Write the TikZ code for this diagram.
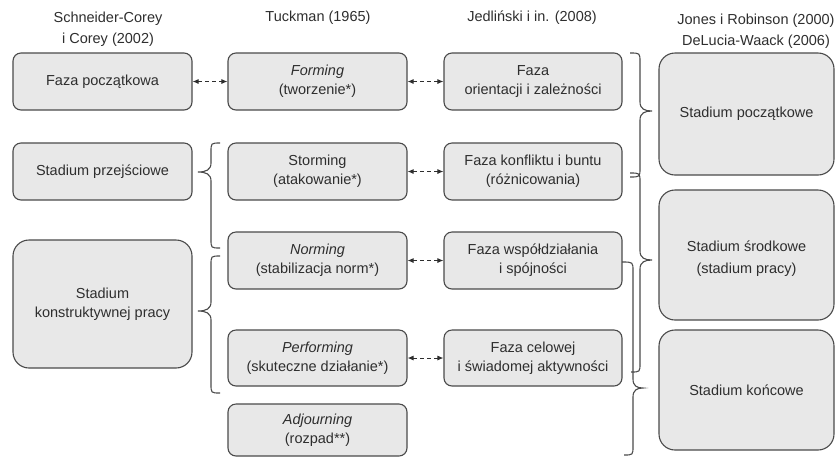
\documentclass[tikz,border=0pt]{standalone}
\usepackage{fontspec}
\setmainfont{Liberation Sans}
\usetikzlibrary{arrows.meta}
\definecolor{boxfill}{HTML}{E8E8E8}
\definecolor{boxline}{HTML}{4A4A4A}
\definecolor{ink}{HTML}{2E2E2E}

% curly bracket: #1 top end x, #2 bottom end x, #3 stem x, #4 tip x,
% #5 top y, #6 tip y, #7 bottom y
\newcommand\groupbrace[7]{%
  \draw[bracket] (#1,#5) .. controls (#3,#5) .. (#3,{#5+9})
    -- (#3,{#6-9}) .. controls (#3,{#6-2}) and ({#3+0.4*(#4-#3)},#6) .. (#4,#6)
    .. controls ({#3+0.4*(#4-#3)},#6) and (#3,{#6+2}) .. (#3,{#6+9})
    -- (#3,{#7-9}) .. controls (#3,#7) .. (#2,#7);}

\begin{document}
\begin{tikzpicture}[x=1pt,y=-1pt,
  every node/.style={font=\fontsize{14.5}{19}\selectfont, text=ink, align=center},
  heading/.style={font=\fontsize{14.5}{21.5}\selectfont},
  stagebox/.style={draw=boxline, fill=boxfill, line width=1.1pt, rounded corners=8pt, inner sep=0pt},
  bigbox/.style={stagebox, rounded corners=16pt},
  colbox/.style={stagebox, minimum width=179pt, minimum height=57pt},
  link/.style={draw=ink, line width=0.9pt, dash pattern=on 4pt off 3pt,
    {Latex[length=6pt,width=5pt]}-{Latex[length=6pt,width=5pt]}},
  bracket/.style={draw=boxline, line width=1.1pt}
]
\useasboundingbox (0,0) rectangle (837,459);

% column headings
\node[heading] (h1) at (108,29) {Schneider-Corey\\i Corey (2002)};
\node[heading] (h2) at (318,18) {Tuckman (1965)};
\node[heading] (h3) at (532,18) {Jedliński i in. (2008)};
\node[heading] (h4) at (756,31) {Jones i Robinson (2000)\\DeLucia-Waack (2006)};

% Schneider-Corey i Corey
\node[colbox] (c1a) at (102.5,81.5) {Faza początkowa};
\node[colbox] (c1b) at (102.5,171.5) {Stadium przejściowe};
\node[bigbox, minimum width=179pt, minimum height=128pt] (c1c) at (102.5,304) {Stadium\\konstruktywnej pracy};

% Tuckman
\node[colbox] (c2a) at (317.5,81.5) {\textit{Forming}\\(tworzenie*)};
\node[colbox] (c2b) at (317.5,171.5) {Storming\\(atakowanie*)};
\node[colbox] (c2c) at (317.5,260.5) {\textit{Norming}\\(stabilizacja norm*)};
\node[colbox, minimum height=56pt] (c2d) at (317.5,358) {\textit{Performing}\\(skuteczne działanie*)};
\node[colbox, minimum height=52pt] (c2e) at (317.5,430) {\textit{Adjourning}\\(rozpad**)};

% Jedliński i in.
\node[colbox, minimum width=178pt] (c3a) at (533,81.5) {Faza\\orientacji i zależności};
\node[colbox, minimum width=178pt] (c3b) at (533,171.5) {Faza konfliktu i buntu\\(różnicowania)};
\node[colbox, minimum width=178pt] (c3c) at (533,260.5) {Faza współdziałania\\i spójności};
\node[colbox, minimum width=178pt, minimum height=56pt] (c3d) at (533,358) {Faza celowej\\i świadomej aktywności};

% Jones i Robinson, DeLucia-Waack
\node[bigbox, minimum width=175pt, minimum height=122pt] (c4a) at (746.5,114) {Stadium początkowe};
\node[bigbox, minimum width=175pt, minimum height=130pt] (c4b) at (746.5,255) {};
\node[font=\fontsize{14.5}{22}\selectfont] (c4bt) at (746.5,259) {Stadium środkowe\\(stadium pracy)};
\node[bigbox, minimum width=175pt, minimum height=120pt] (c4c) at (746.5,390) {Stadium końcowe};

% correspondences
\draw[link] (c1a) -- (c2a);
\draw[link] (c2a) -- (c3a);
\draw[link] (c2b) -- (c3b);
\draw[link] (c2c) -- (c3c);
\draw[link] (c2d) -- (c3d);

% groupings
\groupbrace{220}{220}{211}{198}{143}{172}{248}
\groupbrace{220}{220}{211}{198}{256}{311}{393}
\groupbrace{630}{630}{640}{652}{53}{111}{177}
\groupbrace{630}{631}{640}{652}{173}{260}{372}
\groupbrace{622}{624}{633}{643}{262}{388}{455}
\end{tikzpicture}
\end{document}
